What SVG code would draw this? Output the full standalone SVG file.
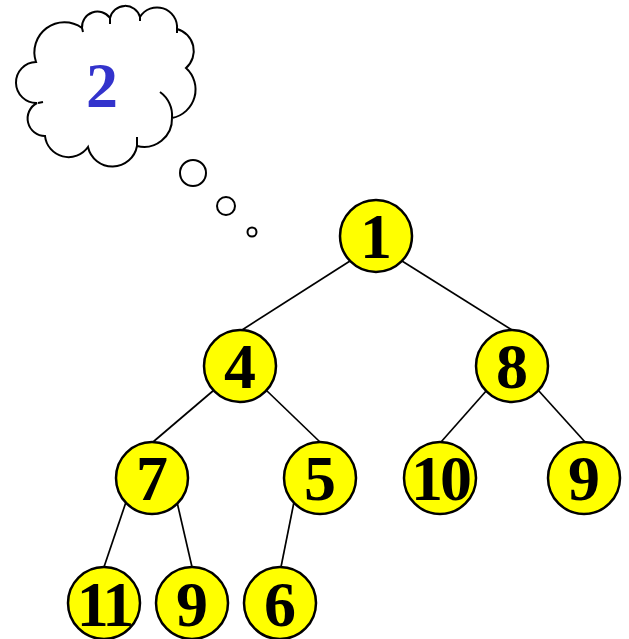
<svg xmlns="http://www.w3.org/2000/svg" width="629" height="639" viewBox="0 0 629 639">
<style>
.edge{stroke:#000;stroke-width:1.7;fill:none}
.node circle{fill:#ffff00;stroke:#000;stroke-width:2.5}
.node text{font-family:"Liberation Serif","Times New Roman",serif;font-weight:bold;font-size:64px;text-anchor:middle;fill:#000}
.cloud{fill:#fff;stroke:#000;stroke-width:2}
.stub{fill:none;stroke:#000;stroke-width:2}
</style>
<rect width="629" height="639" fill="#fff"/>
<g id="thought">
<path class="cloud" d="M37,103 A17.5,17.5 0 1 1 36,62 A30,30 0 0 1 82,28 A15.5,15.5 0 0 1 110,18 A15.5,15.5 0 0 1 140,17 A20,20 0 0 1 177,29 A22.7,22.7 0 0 1 186,68 A29,29 0 0 1 172,118 A28,28 0 0 1 137,146 A25,25 0 0 1 88,147 A23.7,23.7 0 0 1 45,136 A17.5,17.5 0 0 1 37,103 Z"/>
<path class="stub" d="M160,92 A29,29 0 0 1 172,118 M137,137 L137,146 M110,24 L110,18 M140,21 L140,17 M177,33 L177,29 M83,32 L82,28 M38,103 L43,102"/>
<circle class="cloud" cx="193" cy="173" r="13"/>
<circle class="cloud" cx="226" cy="206" r="9"/>
<circle class="cloud" cx="252" cy="232" r="4.5"/>
<text x="102" y="107" font-family="Liberation Serif, Times New Roman, serif" font-weight="bold" font-size="64" text-anchor="middle" fill="#3333cc">2</text>
</g>
<g id="edges">
<line class="edge" x1="350" y1="261" x2="242" y2="330"/>
<line class="edge" x1="402" y1="261" x2="512" y2="330"/>
<line class="edge" x1="214" y1="390" x2="153" y2="442"/>
<line class="edge" x1="266" y1="390" x2="320" y2="442"/>
<line class="edge" x1="487" y1="390" x2="441" y2="442"/>
<line class="edge" x1="538" y1="390" x2="585" y2="442"/>
<line class="edge" x1="126" y1="502" x2="104" y2="567"/>
<line class="edge" x1="177" y1="502" x2="192" y2="567"/>
<line class="edge" x1="294" y1="502" x2="281" y2="567"/>
</g>
<g id="n1" class="node"><circle cx="376" cy="236" r="36"/><text x="376" y="258">1</text></g>
<g id="n4" class="node"><circle cx="240" cy="366" r="36"/><text x="240" y="388">4</text></g>
<g id="n8" class="node"><circle cx="512" cy="366" r="36"/><text x="512" y="388">8</text></g>
<g id="n7" class="node"><circle cx="152" cy="478" r="36"/><text x="152" y="500">7</text></g>
<g id="n5" class="node"><circle cx="320" cy="478" r="36"/><text x="320" y="500">5</text></g>
<g id="n10" class="node"><circle cx="440" cy="478" r="36"/><text x="440" y="500" letter-spacing="-3">10</text></g>
<g id="n9a" class="node"><circle cx="584" cy="478" r="36"/><text x="584" y="500">9</text></g>
<g id="n11" class="node"><circle cx="104" cy="603" r="36"/><text x="104" y="626" letter-spacing="-3">11</text></g>
<g id="n9b" class="node"><circle cx="192" cy="603" r="36"/><text x="192" y="626">9</text></g>
<g id="n6" class="node"><circle cx="280" cy="603" r="36"/><text x="280" y="626">6</text></g>
</svg>
